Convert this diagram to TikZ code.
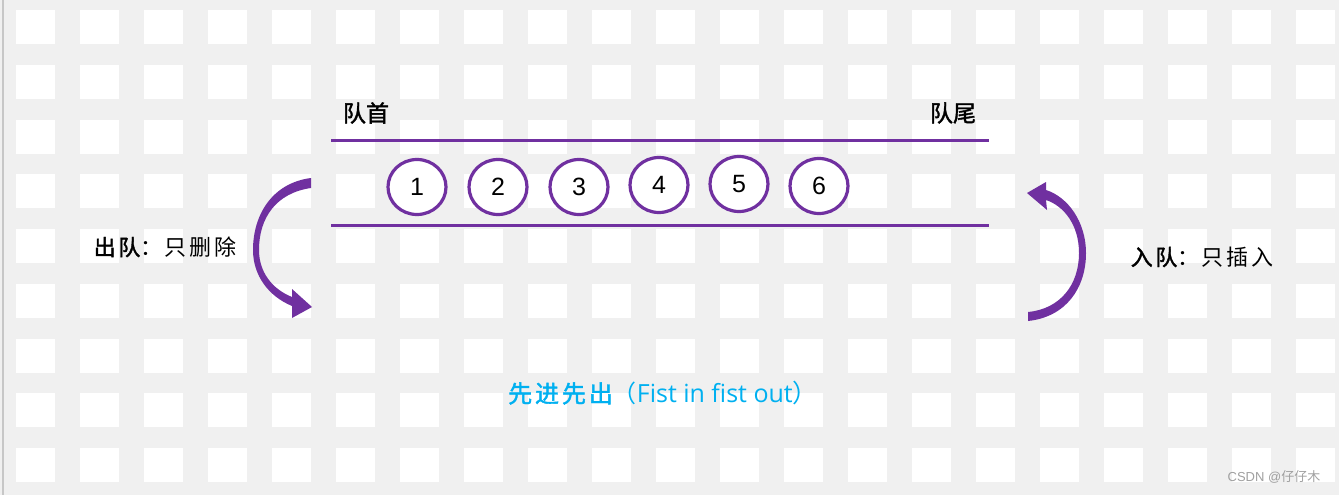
\documentclass[tikz,border=0pt]{standalone}
\usepackage{fontspec}
\setmainfont{Liberation Sans}
\newfontfamily\cjk{Noto Sans CJK SC}
\newfontfamily\cjkb[FakeBold=1.6]{Noto Sans CJK SC}
\newfontfamily\cjkls[LetterSpace=12]{Noto Sans CJK SC}
\newfontfamily\cjkbls[FakeBold=1.6,LetterSpace=12]{Noto Sans CJK SC}
\newfontfamily\latinsans{Open Sans}
\usetikzlibrary{shapes.geometric}
\definecolor{bggray}{HTML}{F0F0F0}
\definecolor{qpurple}{HTML}{7030A0}
\definecolor{qcyan}{HTML}{00B0F0}
\definecolor{wmgray}{HTML}{A0A0A0}
\tikzset{
  qline/.style={draw=qpurple, line width=3pt},
  qitem/.style={ellipse, draw=qpurple, line width=3.2pt, fill=white,
    minimum width=58pt, minimum height=55pt, inner sep=0pt,
    font=\fontsize{25}{28}\selectfont},
  qlabel/.style={inner sep=0pt, font=\fontsize{22}{25}\selectfont},
  qarrow/.style={fill=qpurple, draw=none},
}
\begin{document}
\begin{tikzpicture}[x=1pt,y=-1pt]
\useasboundingbox (0,0) rectangle (1339,495);
\fill[bggray] (0,0) rectangle (1339,495);
\foreach \i in {0,...,20}{
  \foreach \j in {0,...,8}{
    \fill[white] ({16+64*\i},{10+54.75*\j}) rectangle +(39,34);
  }
}
\draw[line width=2pt, draw=black!22] (3,0) -- (3,495);

% channel lines
\coordinate (tl) at (331,140);
\coordinate (tr) at (989,140);
\coordinate (bl) at (331,225);
\coordinate (br) at (989,225);
\draw[qline] (tl) -- (tr);
\draw[qline] (bl) -- (br);

% labels
\node[qlabel, font=\fontsize{23}{26}\selectfont] (head) at (366,113) {\cjkb 队首};
\node[qlabel, font=\fontsize{23}{26}\selectfont] (tail) at (953,113) {\cjkb 队尾};

% items
\node[qitem] (n1) at (417,187) {1};
\node[qitem] (n2) at (498,187) {2};
\node[qitem] (n3) at (579,187) {3};
\node[qitem] (n4) at (659,185) {4};
\node[qitem] (n5) at (739,184) {5};
\node[qitem] (n6) at (819,186) {6};

% dequeue arrow (left)
\fill[qarrow] (311,178) .. controls (272,183) and (253,215) .. (253,250)
  .. controls (253,275) and (268,296) .. (292,306) -- (292,318) -- (312,307)
  -- (292,289) -- (292,297) .. controls (272,289) and (259,272) .. (259,250)
  .. controls (259,218) and (276,193) .. (311,188) -- cycle;
% enqueue arrow (right)
\fill[qarrow] (1028,321) .. controls (1066,317) and (1086,288) .. (1086,253)
  .. controls (1086,222) and (1068,197) .. (1046,190) -- (1046,182) -- (1027,193)
  -- (1047,210) -- (1046,200) .. controls (1064,206) and (1079,225) .. (1079,253)
  .. controls (1079,285) and (1060,309) .. (1028,312) -- cycle;

\node[qlabel] (deq) at (165,247) {\cjkbls 出队\cjkls ：只删除};
\node[qlabel] (enq) at (1202,257) {\cjkbls 入队\cjkls ：只插入};

\node[inner sep=0pt, text=qcyan, font=\fontsize{24}{27}\selectfont] (fifo) at (663,393)
  {\cjkbls 先进先出\cjk （\latinsans\fontsize{25}{28}\selectfont Fist in fist out\cjk ）};

\node[inner sep=0pt, text=wmgray, font=\fontsize{13}{15}\selectfont] (wm) at (1274,477)
  {CSDN @\cjk 仔仔木};
\end{tikzpicture}
\end{document}
